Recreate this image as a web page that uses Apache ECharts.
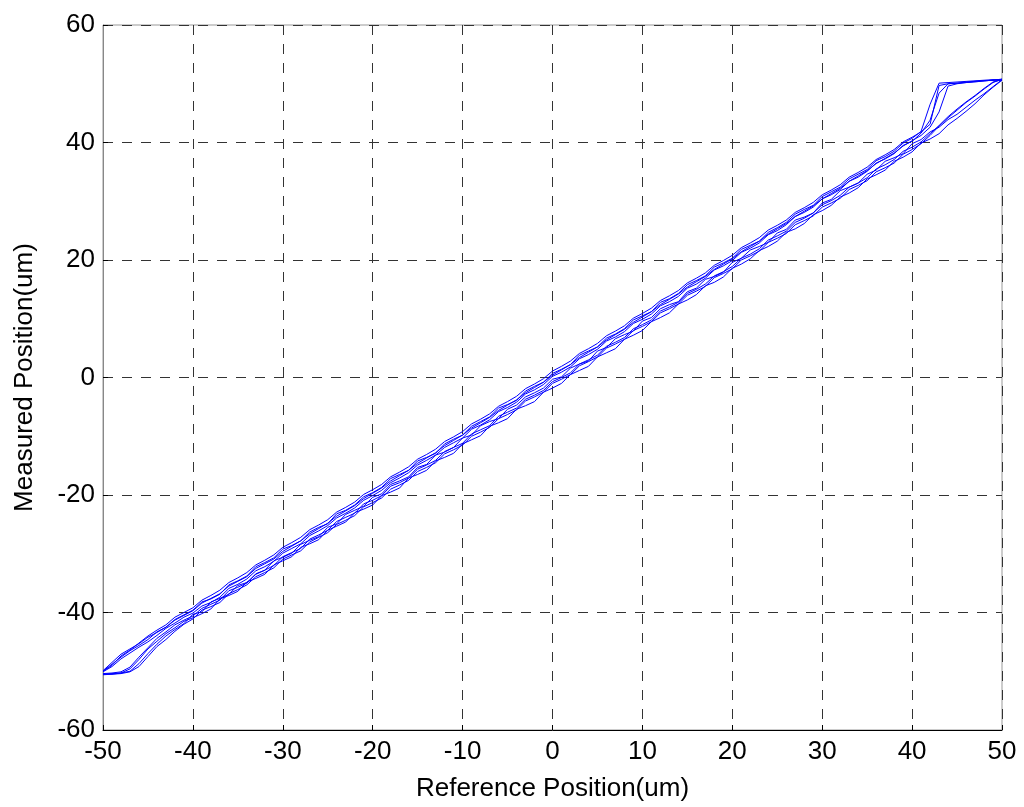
<!DOCTYPE html>
<html>
<head>
<meta charset="utf-8">
<script src="https://cdn.jsdelivr.net/npm/echarts@6/dist/echarts.min.js"></script>
<style>
html,body{margin:0;padding:0;background:#fff;}
#chart{width:1024px;height:807px;}
</style>
</head>
<body>
<div id="chart"></div>
<script>
// Reference positions (um), x grid of every sweep
const refPos = [
-50,-49,-48,-47,-46,-45,-44,-43,-42,-41,
-40,-39,-38,-37,-36,-35,-34,-33,-32,-31,
-30,-29,-28,-27,-26,-25,-24,-23,-22,-21,
-20,-19,-18,-17,-16,-15,-14,-13,-12,-11,
-10,-9,-8,-7,-6,-5,-4,-3,-2,-1,
0,1,2,3,4,5,6,7,8,9,
10,11,12,13,14,15,16,17,18,19,
20,21,22,23,24,25,26,27,28,29,
30,31,32,33,34,35,36,37,38,39,
40,41,42,43,44,45,46,47,48,49,
50];

// Measured positions (um). "up" sweeps: reference rising -50 -> 50.
// "down" sweeps: reference falling 50 -> -50 (listed here in order of rising reference).
const up1 = [
-50.5,-50.4,-50.3,-50.0,-48.7,-47.0,-45.4,-44.0,-42.9,-41.9,
-40.3,-39.9,-38.2,-37.6,-36.9,-35.4,-34.9,-33.5,-32.8,-31.2,
-30.6,-29.9,-28.4,-27.7,-27.1,-25.5,-24.9,-23.3,-22.6,-21.9,
-20.4,-19.8,-18.2,-17.6,-16.9,-15.3,-14.8,-13.2,-12.7,-11.9,
-10.3,-9.8,-8.2,-7.5,-7.0,-5.4,-4.7,-3.3,-2.6,-1.8,
-0.3,0.1,1.6,2.3,2.8,4.5,5.1,6.6,7.3,7.9,
9.6,10.2,11.7,12.4,12.9,14.6,15.2,16.7,17.2,17.9,
19.6,20.3,21.7,22.3,23.0,24.6,25.2,26.8,27.3,28.0,
29.7,30.3,31.8,32.4,33.1,34.6,35.3,36.8,37.4,38.1,
39.8,40.5,41.8,42.6,43.9,44.8,46.0,47.2,48.3,49.5,
50.7];
const down1 = [
-50.0,-48.8,-47.6,-46.5,-45.6,-44.6,-43.3,-42.5,-41.2,-40.4,
-39.6,-38.2,-37.7,-36.9,-35.3,-34.6,-33.8,-32.2,-31.5,-30.7,
-29.2,-28.6,-27.8,-26.3,-25.5,-24.9,-23.2,-22.6,-21.7,-20.3,
-19.6,-18.7,-17.2,-16.5,-15.8,-14.2,-13.6,-12.9,-11.3,-10.5,
-9.8,-8.3,-7.5,-6.7,-5.2,-4.6,-3.9,-2.3,-1.5,-0.8,
0.7,1.4,2.2,3.8,4.5,5.2,6.7,7.4,8.3,9.8,
10.5,11.2,12.8,13.4,14.3,15.8,16.5,17.3,18.8,19.5,
20.3,21.8,22.5,23.2,24.7,25.5,26.4,27.8,28.6,29.3,
30.8,31.6,32.4,33.8,34.6,35.4,36.9,37.6,38.5,39.9,
40.7,41.9,46.5,50.1,50.2,50.3,50.4,50.5,50.6,50.7,
50.8];
const up2 = [
-50.6,-50.5,-50.3,-49.6,-48.0,-46.2,-44.9,-43.6,-42.6,-41.5,
-40.9,-40.2,-39.4,-37.7,-37.1,-36.4,-34.8,-34.2,-33.5,-31.9,
-31.2,-30.5,-28.9,-28.3,-27.6,-26.0,-25.3,-24.6,-23.0,-22.4,
-21.7,-20.1,-19.5,-18.8,-17.1,-16.5,-15.8,-14.2,-13.6,-12.9,
-11.3,-10.6,-9.9,-8.3,-7.7,-7.0,-5.4,-4.8,-4.1,-2.5,
-1.8,-1.0,0.5,1.2,1.9,3.5,4.2,4.9,6.5,7.2,
8.0,9.5,10.2,11.0,12.5,13.2,14.1,15.6,16.2,17.1,
18.6,19.3,20.2,21.6,22.3,23.2,24.7,25.3,26.2,27.7,
28.4,29.3,30.7,31.4,32.3,33.8,34.5,35.3,36.8,37.5,
38.4,39.9,40.6,41.5,43.0,44.1,45.3,46.6,48.1,49.4,
50.6];
const down2 = [
-50.1,-49.2,-47.9,-46.9,-45.9,-45.0,-43.9,-42.7,-41.8,-40.8,
-40.1,-38.9,-38.3,-37.4,-35.9,-35.2,-34.3,-32.9,-32.2,-31.3,
-29.9,-29.1,-28.3,-26.9,-26.1,-25.2,-23.9,-23.1,-22.2,-20.9,
-20.1,-19.2,-17.9,-17.1,-16.2,-14.9,-14.1,-13.2,-11.9,-11.1,
-10.3,-8.8,-8.1,-7.2,-5.8,-5.1,-4.2,-2.8,-2.1,-1.2,
0.2,0.9,1.8,3.2,3.9,4.8,6.2,6.9,7.8,9.2,
9.9,10.8,12.2,12.9,13.8,15.2,15.9,16.9,18.3,19.0,
19.9,21.3,22.0,22.9,24.3,25.0,26.0,27.4,28.1,29.0,
30.4,31.1,32.0,33.4,34.1,35.1,36.5,37.2,38.1,39.5,
40.2,41.6,43.8,48.4,50.0,50.1,50.2,50.4,50.5,50.6,
50.6];
const up3 = [
-50.4,-50.3,-50.1,-49.3,-47.6,-46.0,-44.4,-43.3,-42.1,-41.3,
-40.6,-39.3,-38.6,-37.9,-36.3,-35.7,-35.0,-33.4,-32.8,-32.0,
-30.5,-29.8,-29.1,-27.5,-26.8,-26.0,-24.5,-23.8,-23.1,-21.5,
-20.9,-20.1,-18.5,-17.9,-17.1,-15.6,-14.9,-14.1,-12.6,-11.9,
-11.2,-9.6,-8.9,-8.2,-6.6,-5.9,-5.2,-3.7,-3.0,-2.2,
-0.7,0.0,0.8,2.3,3.0,3.8,5.3,6.0,6.8,8.3,
9.0,9.8,11.3,12.0,12.8,14.3,15.0,15.9,17.3,18.0,
18.9,20.3,21.0,21.9,23.4,24.1,24.9,26.4,27.1,28.0,
29.4,30.1,31.0,32.4,33.1,34.0,35.5,36.2,37.1,38.5,
39.2,40.1,41.5,42.9,44.4,45.7,46.9,48.0,49.2,50.3,
50.7];
const down3 = [
-49.9,-48.5,-47.1,-46.2,-45.3,-44.2,-43.4,-42.5,-41.3,-40.5,
-39.7,-38.4,-37.6,-36.8,-35.5,-34.7,-33.9,-32.5,-31.7,-30.9,
-29.6,-28.7,-27.8,-26.6,-25.7,-24.8,-23.6,-22.7,-21.8,-20.6,
-19.7,-18.8,-17.6,-16.7,-15.8,-14.6,-13.7,-12.8,-11.6,-10.7,
-9.8,-8.6,-7.7,-6.8,-5.6,-4.7,-3.8,-2.6,-1.7,-0.8,
0.4,1.3,2.2,3.4,4.3,5.2,6.4,7.3,8.2,9.4,
10.3,11.2,12.4,13.3,14.2,15.4,16.3,17.2,18.4,19.3,
20.2,21.4,22.3,23.2,24.4,25.3,26.2,27.4,28.3,29.2,
30.4,31.3,32.2,33.4,34.3,35.2,36.4,37.3,38.2,39.4,
40.3,41.2,42.6,45.2,49.6,50.0,50.2,50.3,50.5,50.6,
50.7];
const up4 = [
-50.5,-50.5,-50.4,-50.1,-49.2,-47.5,-45.8,-44.6,-43.2,-42.0,
-41.1,-39.6,-39.0,-38.3,-36.8,-36.1,-35.3,-33.9,-33.2,-32.4,
-30.9,-30.2,-29.5,-28.0,-27.2,-26.4,-25.0,-24.3,-23.5,-22.0,
-21.3,-20.5,-19.0,-18.3,-17.5,-16.0,-15.3,-14.5,-13.0,-12.3,
-11.5,-10.0,-9.3,-8.5,-7.0,-6.3,-5.5,-4.0,-3.3,-2.5,
-1.0,-0.3,0.5,2.0,2.7,3.5,5.0,5.7,6.5,8.0,
8.7,9.5,11.0,11.7,12.5,14.0,14.7,15.5,17.0,17.7,
18.5,20.0,20.7,21.5,23.0,23.7,24.5,26.0,26.7,27.5,
29.0,29.7,30.5,32.0,32.7,33.5,35.0,35.7,36.5,38.0,
38.8,39.8,41.2,42.8,44.2,45.5,46.8,47.9,49.1,50.2,
50.8];
const down4 = [
-50.0,-49.0,-47.4,-46.4,-45.2,-44.0,-43.0,-42.1,-40.8,-40.0,
-39.2,-37.9,-37.1,-36.2,-34.9,-34.1,-33.2,-31.9,-31.1,-30.2,
-28.9,-28.1,-27.2,-25.9,-25.1,-24.2,-22.9,-22.1,-21.2,-19.9,
-19.1,-18.2,-16.9,-16.1,-15.2,-13.9,-13.1,-12.2,-10.9,-10.1,
-9.2,-7.9,-7.1,-6.2,-4.9,-4.1,-3.2,-1.9,-1.1,-0.2,
1.1,1.9,2.8,4.1,4.9,5.8,7.1,7.9,8.8,10.1,
10.9,11.8,13.1,13.9,14.8,16.1,16.9,17.8,19.1,19.9,
20.8,22.1,22.9,23.8,25.1,25.9,26.8,28.1,28.9,29.8,
31.1,31.9,32.8,34.1,34.9,35.8,37.1,37.9,38.8,40.1,
40.9,41.8,43.1,49.7,50.0,50.1,50.3,50.4,50.5,50.6,
50.8];

const xTicks = [-50,-40,-30,-20,-10,0,10,20,30,40,50];
const yTicks = [-60,-40,-20,0,20,40,60];
const xTitle = 'Reference Position(um)';
const yTitle = 'Measured Position(um)';

const cycles = [[up1, down1], [up2, down2], [up3, down3], [up4, down4]];

function cyclePoints(up, down) {
  const pts = [];
  for (let i = 0; i < refPos.length; i++) pts.push([refPos[i], up[i]]);
  for (let i = refPos.length - 1; i >= 0; i--) pts.push([refPos[i], down[i]]);
  return pts;
}

const FONT = '"Liberation Sans", Arial, Helvetica, sans-serif';
const FS = 26;
const chart = echarts.init(document.getElementById('chart'), null, {renderer: 'canvas'});

const series = cycles.map((c, k) => ({
  type: 'line',
  name: 'cycle' + (k + 1),
  data: cyclePoints(c[0], c[1]),
  showSymbol: false,
  symbol: 'none',
  lineStyle: {color: '#0000ff', width: 1},
  animation: false,
  z: 5
}));

chart.setOption({
  animation: false,
  backgroundColor: '#ffffff',
  grid: {left: 103, right: 22, top: 25, bottom: 75, show: true, borderColor: '#999', borderWidth: 1, backgroundColor: 'transparent'},
  xAxis: {
    type: 'value', min: xTicks[0], max: xTicks[xTicks.length - 1], interval: 10,
    name: xTitle, nameLocation: 'middle', nameGap: 46,
    nameTextStyle: {fontFamily: FONT, fontSize: FS, color: '#000'},
    axisLine: {show: true, onZero: false, lineStyle: {color: '#000', width: 1}},
    axisTick: {show: true, inside: true, length: 5, lineStyle: {color: '#000'}},
    axisLabel: {fontFamily: FONT, fontSize: FS, color: '#000', margin: 9},
    splitLine: {show: true, lineStyle: {color: '#333', width: 1, type: [10, 9]}}
  },
  yAxis: {
    type: 'value', min: yTicks[0], max: yTicks[yTicks.length - 1], interval: 20,
    name: yTitle, nameLocation: 'middle', nameGap: 65,
    nameTextStyle: {fontFamily: FONT, fontSize: FS, color: '#000'},
    axisLine: {show: true, onZero: false, lineStyle: {color: '#888', width: 1}},
    axisTick: {show: true, inside: true, length: 5, lineStyle: {color: '#000'}},
    axisLabel: {fontFamily: FONT, fontSize: FS, color: '#000', margin: 8},
    splitLine: {show: true, lineStyle: {color: '#333', width: 1, type: [10, 9]}}
  },
  series: series
});
</script>
</body>
</html>
